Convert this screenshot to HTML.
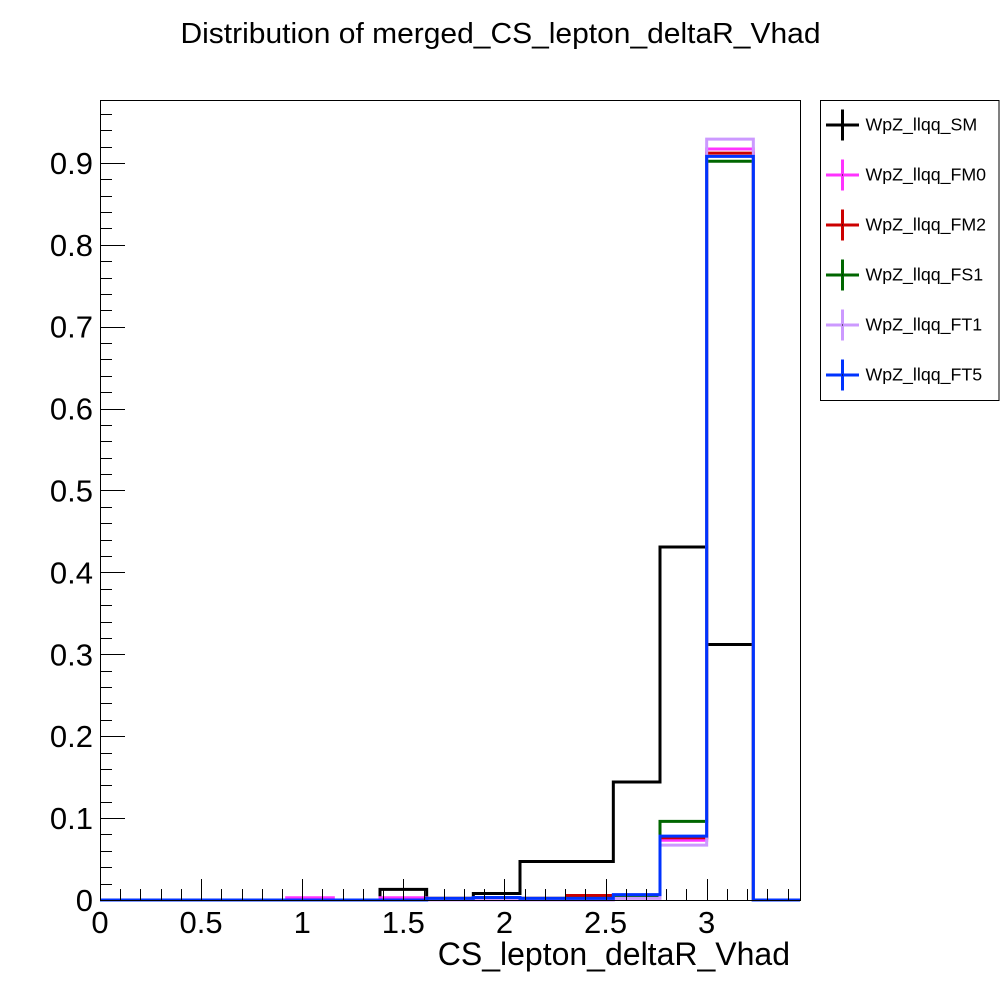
<!DOCTYPE html>
<html>
<head>
<meta charset="utf-8">
<title>Distribution of merged_CS_lepton_deltaR_Vhad</title>
<style>
html,body{margin:0;padding:0;background:#fff;width:1000px;height:1000px;overflow:hidden}
svg{display:block}
text{font-family:"Liberation Sans",Arial,sans-serif;fill:#000}
</style>
</head>
<body>
<svg id="chart" xmlns="http://www.w3.org/2000/svg" width="1000" height="1000" viewBox="0 0 1000 1000">
<rect x="0" y="0" width="1000" height="1000" fill="#fff"/>
<text x="500.5" y="43" font-size="29" text-anchor="middle" textLength="640" lengthAdjust="spacingAndGlyphs">Distribution of merged_CS_lepton_deltaR_Vhad</text>
<g id="series"></g>
<g id="axes"></g>
<text x="790" y="965" font-size="32" text-anchor="end">CS_lepton_deltaR_Vhad</text>
<g id="legend"></g>
</svg>
<script>
const binCount = 15;
const xMax = 3.4615;
const yMax = 0.9768;
const xTickLabels = ["0","0.5","1","1.5","2","2.5","3"];
const xTickValues = [0,0.5,1,1.5,2,2.5,3];
const yTickLabels = ["0","0.1","0.2","0.3","0.4","0.5","0.6","0.7","0.8","0.9"];
const yTickValues = [0,0.1,0.2,0.3,0.4,0.5,0.6,0.7,0.8,0.9];
const seriesNames = ["WpZ_llqq_SM","WpZ_llqq_FM0","WpZ_llqq_FM2","WpZ_llqq_FS1","WpZ_llqq_FT1","WpZ_llqq_FT5"];
const seriesColors = ["#000000","#ff33ff","#cc0000","#006600","#cc99ff","#0033ff"];
const valuesSM  = [0,0,0,0,0,0,0.013,0,0.008,0.047,0.047,0.144,0.431,0.312,0];
const valuesFM0 = [0,0,0,0,0.0028,0,0.0028,0.002,0.002,0.002,0.002,0.004,0.073,0.917,0];
const valuesFM2 = [0,0,0,0,0,0,0,0.002,0.002,0.002,0.0055,0.0055,0.076,0.912,0];
const valuesFS1 = [0,0,0,0,0,0,0,0.002,0,0.002,0.002,0.004,0.096,0.902,0];
const valuesFT1 = [0,0,0,0,0,0,0,0,0,0,0,0.002,0.067,0.929,0];
const valuesFT5 = [0,0,0,0,0,0,0,0.002,0.003,0.002,0.002,0.0065,0.078,0.908,0];
const allValues = [valuesSM,valuesFM0,valuesFM2,valuesFS1,valuesFT1,valuesFT5];

const NS = "http://www.w3.org/2000/svg";
const plotL = 100, plotR = 800, plotT = 100, plotB = 900;
function xScale(v){ return plotL + v / xMax * (plotR - plotL); }
function yScale(v){ return plotB - v / yMax * (plotB - plotT); }
function make(tag, attrs, parent){
  const el = document.createElementNS(NS, tag);
  for (const k in attrs) el.setAttribute(k, attrs[k]);
  parent.appendChild(el);
  return el;
}

const seriesG = document.getElementById("series");
allValues.forEach(function(vals, s){
  const binW = xMax / binCount;
  let d = "M" + xScale(0).toFixed(2) + " " + yScale(vals[0]).toFixed(2);
  vals.forEach(function(v, i){
    d += "L" + xScale(i * binW).toFixed(2) + " " + yScale(v).toFixed(2);
    d += "L" + xScale((i + 1) * binW).toFixed(2) + " " + yScale(v).toFixed(2);
  });
  const p = make("path", {d: d, fill: "none", stroke: seriesColors[s], "stroke-width": 3, "stroke-linejoin": "miter"}, seriesG);
  
  
});

const axesG = document.getElementById("axes");
const frame = make("rect", {x: plotL + 0.5, y: plotT + 0.5, width: plotR - plotL, height: plotB - plotT, fill: "none", stroke: "#000", "stroke-width": 1}, axesG);



for (let i = 1; i * 0.1 < xMax; i++) {
  const x = Math.round(xScale(i * 0.1)) + 0.5;
  const isMajor = i % 5 === 0;
  const t = make("line", {x1: x, x2: x, y1: 900, y2: isMajor ? 879 : 889, stroke: "#000", "stroke-width": 1}, axesG);
  
  
}
for (let i = 1; i * 0.02 < yMax; i++) {
  const y = Math.round(yScale(i * 0.02)) + 0.5;
  const isMajor = i % 5 === 0;
  const t = make("line", {x1: 100, x2: isMajor ? 125 : 112, y1: y, y2: y, stroke: "#000", "stroke-width": 1}, axesG);
  
  
}
xTickLabels.forEach(function(label, i){
  const t = make("text", {x: xScale(xTickValues[i]), y: 933, "font-size": 31, "text-anchor": "middle"}, axesG);
  t.textContent = label;
  
  
});
yTickLabels.forEach(function(label, i){
  const t = make("text", {x: 93, y: yScale(yTickValues[i]) + 11, "font-size": 31, "text-anchor": "end"}, axesG);
  t.textContent = label;
  
  
});

const legendG = document.getElementById("legend");
const box = make("rect", {x: 820.5, y: 100.5, width: 178.5, height: 300, fill: "#fff", stroke: "#000", "stroke-width": 1}, legendG);


seriesNames.forEach(function(name, i){
  const cy = 125 + i * 50;
  const h = make("line", {x1: 826, x2: 859, y1: cy, y2: cy, stroke: seriesColors[i], "stroke-width": 3}, legendG);
  
  
  const v = make("line", {x1: 842.5, x2: 842.5, y1: cy - 15.5, y2: cy + 15.5, stroke: seriesColors[i], "stroke-width": 3}, legendG);
  
  
  const dot = make("rect", {x: 842, y: cy - 0.5, width: 1, height: 1, fill: "#000"}, legendG);
  
  
  const t = make("text", {x: 865.5, y: cy + 5.5, "font-size": 17.8}, legendG);
  t.textContent = name;
  
  
});
</script>
</body>
</html>
